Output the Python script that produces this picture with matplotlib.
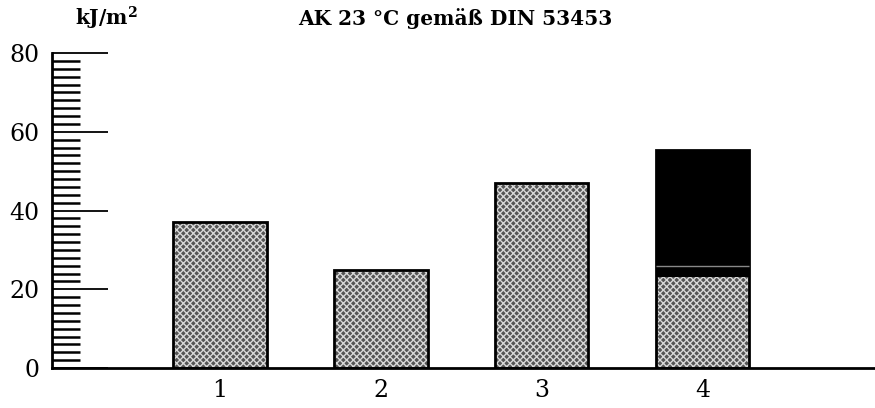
import numpy as np
import matplotlib.pyplot as plt

# Daten (Schlagzähigkeit AK 23 °C)
categories = ['1', '2', '3', '4']
gray_values = [37, 25, 47, 23]      # gerasterter Anteil
black_values = [0, 0, 0, 32.5]      # schwarzer Anteil oben (nur Probe 4)
title = 'AK 23 °C gemäß DIN 53453'
unit = r'kJ/m$^{\mathbf{2}}$'

plt.rcParams['font.family'] = ['DejaVu Serif']
plt.rcParams['mathtext.fontset'] = 'dejavuserif'
plt.rcParams['hatch.linewidth'] = 1.0

fig = plt.figure(figsize=(8.75, 4.08), dpi=100)
ax = fig.add_axes([0.0594, 0.098, 0.9406, 0.772])

x = np.arange(1, len(categories) + 1)
w = 0.58

# gerasterte Füllung
ax.bar(x, gray_values, width=w, color='#555555', edgecolor='#d8d8d8',
       hatch='xxxxx', linewidth=0, zorder=2)
# schwarzer Aufsatz
ax.bar(x, black_values, width=w, bottom=gray_values, color='black',
       linewidth=0, zorder=2)
# Umrandung
tops = np.array(gray_values) + np.array(black_values)
ax.bar(x, tops, width=w, fill=False, edgecolor='black', linewidth=2, zorder=3)
# schmale helle Linie im Balken 4
ax.hlines(26, x[3] - w / 2, x[3] + w / 2, color='#888888', lw=1, zorder=4)

ax.set_xlim(-0.043, 5.07)
ax.set_ylim(0, 80)
ax.set_xticks(x)
ax.set_xticklabels(categories)
ax.set_yticks([0, 20, 40, 60, 80])
ax.set_yticks(np.arange(0, 80, 2), minor=True)

ax.tick_params(axis='x', length=0, pad=8, labelsize=17)
ax.tick_params(axis='y', which='major', direction='in', length=40, width=1.3,
               labelsize=17, pad=9)
ax.tick_params(axis='y', which='minor', direction='in', length=20, width=1.8)

for s in ['top', 'right']:
    ax.spines[s].set_visible(False)
ax.spines['left'].set_linewidth(2)
ax.spines['bottom'].set_linewidth(2)

fig.text(0.122, 0.955, unit, ha='center', va='center', fontsize=14.5, fontweight='bold')
fig.text(0.52, 0.955, title, ha='center', va='center', fontsize=14.5, fontweight='bold')

fig.savefig('out.png', dpi=100)
